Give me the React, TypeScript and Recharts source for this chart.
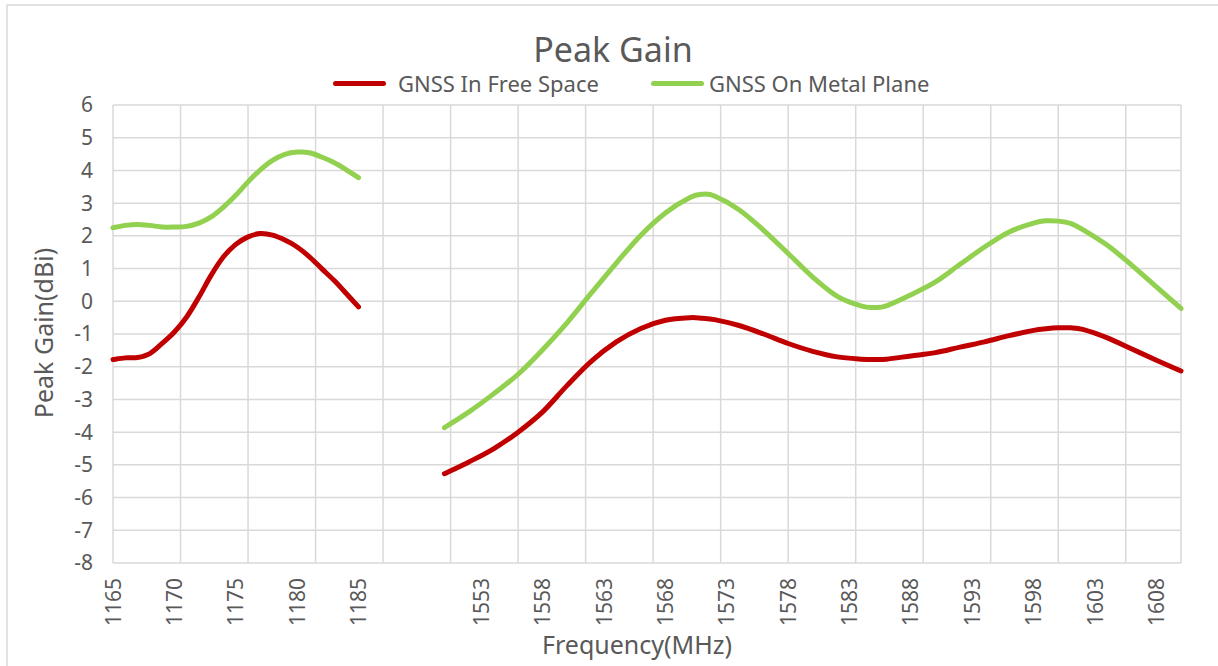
import { CartesianGrid, Legend, Line, LineChart, XAxis, YAxis } from "recharts";

// L5 band, read every 1 MHz
const lowFreqs = [
  1165, 1166, 1167, 1168, 1169, 1170, 1171, 1172, 1173, 1174, 1175, 1176, 1177,
  1178, 1179, 1180, 1181, 1182, 1183, 1184, 1185,
];
const lowFreeSpace = [
  -1.78, -1.73, -1.72, -1.6, -1.29, -0.94, -0.48, 0.13, 0.8, 1.36, 1.74, 1.97,
  2.07, 2.02, 1.87, 1.66, 1.36, 1.0, 0.64, 0.24, -0.17,
];
const lowMetalPlane = [
  2.25, 2.32, 2.35, 2.32, 2.27, 2.27, 2.29, 2.39, 2.58, 2.88, 3.24, 3.65, 4.02,
  4.31, 4.49, 4.56, 4.54, 4.41, 4.24, 4.02, 3.78,
];

// L1 band, read every 2 MHz plus the turning points
const highFreqs = [
  1550, 1552, 1554, 1556, 1558, 1560, 1562, 1564, 1566, 1568, 1570, 1571, 1572,
  1574, 1576, 1578, 1580, 1582, 1584, 1585, 1586, 1588, 1590, 1592, 1594, 1596,
  1598, 1599, 1600, 1601, 1602, 1604, 1606, 1608, 1610,
];
const highFreeSpace = [
  -5.27, -4.91, -4.51, -4.0, -3.38, -2.57, -1.82, -1.24, -0.83, -0.58, -0.5,
  -0.52, -0.56, -0.74, -1.0, -1.29, -1.53, -1.7, -1.77, -1.78, -1.77, -1.67,
  -1.57, -1.4, -1.24, -1.05, -0.89, -0.84, -0.81, -0.81, -0.86, -1.12, -1.46,
  -1.8, -2.13,
];
const highMetalPlane = [
  -3.86, -3.38, -2.83, -2.23, -1.48, -0.65, 0.27, 1.17, 2.02, 2.7, 3.17, 3.27,
  3.22, 2.8, 2.17, 1.46, 0.74, 0.15, -0.15, -0.19, -0.14, 0.2, 0.59, 1.13, 1.66,
  2.12, 2.39, 2.46, 2.45, 2.38, 2.19, 1.71, 1.1, 0.44, -0.22,
];

const yTicks = [-8, -7, -6, -5, -4, -3, -2, -1, 0, 1, 2, 3, 4, 5, 6];

const FREE = "GNSS In Free Space";
const METAL = "GNSS On Metal Plane";
const RED = "#C00000";
const GREEN = "#92D050";
const TEXT = "#595959";
const GRID = "#D9D9D9";
const FONT = "'Noto Sans', sans-serif";

// Excel category axis: one slot per 0.5 MHz, 13 empty rows between the bands
function halfSteps(from: number, to: number) {
  const out: string[] = [];
  for (let i = 0; i <= (to - from) * 2; i++) out.push(String(from + i / 2));
  return out;
}
const categories = [
  ...halfSteps(1165, 1185),
  ...Array.from({ length: 13 }, (_, i) => `gap${i}`),
  ...halfSteps(1550, 1610),
];

function valueAt(freqs: number[], values: number[], cat: string) {
  const i = freqs.indexOf(Number(cat));
  return i >= 0 ? values[i] : null;
}

const data = categories.map((cat) => ({
  cat,
  freeLow: valueAt(lowFreqs, lowFreeSpace, cat),
  metalLow: valueAt(lowFreqs, lowMetalPlane, cat),
  freeHigh: valueAt(highFreqs, highFreeSpace, cat),
  metalHigh: valueAt(highFreqs, highMetalPlane, cat),
}));

// the workbook puts a vertical gridline every 11 slots
const gridCats = categories.filter((_, i) => i % 11 === 0);

// Excel-style "smoothed line": Catmull-Rom through the points as cubic beziers
function excelSmooth(context: any) {
  let pts: [number, number][] = [];
  return {
    areaStart() {},
    areaEnd() {},
    lineStart() {
      pts = [];
    },
    lineEnd() {
      if (!pts.length) return;
      context.moveTo(pts[0][0], pts[0][1]);
      for (let i = 0; i < pts.length - 1; i++) {
        const p0 = pts[i - 1] ?? pts[i];
        const p1 = pts[i];
        const p2 = pts[i + 1];
        const p3 = pts[i + 2] ?? p2;
        context.bezierCurveTo(
          p1[0] + (p2[0] - p0[0]) / 6,
          p1[1] + (p2[1] - p0[1]) / 6,
          p2[0] - (p3[0] - p1[0]) / 6,
          p2[1] - (p3[1] - p1[1]) / 6,
          p2[0],
          p2[1]
        );
      }
    },
    point(x: number, y: number) {
      pts.push([x, y]);
    },
  };
}

function FreqTick({ x, y, payload }: any) {
  const v = String(payload.value);
  if (v.startsWith("gap")) return null;
  const ty = y + 7;
  return (
    <text
      x={x}
      y={ty}
      transform={`rotate(-90 ${x} ${ty})`}
      textAnchor="end"
      dy="0.36em"
      fill={TEXT}
      fontSize={21}
      fontFamily={FONT}
    >
      {v}
    </text>
  );
}

function LegendContent({ payload }: any) {
  const seen = new Set<string>();
  const items = (payload ?? []).filter((p: any) => {
    if (seen.has(p.value)) return false;
    seen.add(p.value);
    return true;
  });
  return (
    <div
      style={{
        display: "flex",
        alignItems: "center",
        gap: 52,
        fontFamily: FONT,
        fontSize: 22,
        color: TEXT,
      }}
    >
      {items.map((p: any, i: number) => (
        <div key={p.value} style={{ display: "flex", alignItems: "center", gap: i === 0 ? 12 : 5 }}>
          <span
            style={{
              display: "inline-block",
              width: 53,
              height: 5,
              borderRadius: 3,
              background: p.color,
            }}
          />
          <span>{p.value}</span>
        </div>
      ))}
    </div>
  );
}

const lineProps = {
  type: excelSmooth as any,
  strokeWidth: 5,
  strokeLinecap: "round" as const,
  dot: false,
  activeDot: false,
  connectNulls: true,
  isAnimationActive: false,
};

export default function App() {
  return (
    <div
      style={{
        position: "absolute",
        left: 0,
        top: 0,
        width: 1218,
        height: 666,
        background: "#fff",
        overflow: "hidden",
      }}
    >
      <LineChart
        width={1218}
        height={666}
        data={data}
        margin={{ top: 105, right: 37, bottom: 0, left: 53 }}
      >
        <CartesianGrid stroke={GRID} strokeWidth={1.5} xAxisId="grid" />
        <XAxis
          dataKey="cat"
          type="category"
          scale="point"
          interval={9}
          tick={FreqTick}
          tickLine={false}
          axisLine={false}
          height={103}
        />
        <XAxis
          xAxisId="grid"
          dataKey="cat"
          type="category"
          scale="point"
          ticks={gridCats}
          interval={0}
          hide
        />
        <YAxis
          type="number"
          domain={[-8, 6]}
          ticks={yTicks}
          interval={0}
          width={60}
          tickLine={false}
          axisLine={false}
          tickMargin={14}
          tick={{ fontSize: 21, fill: TEXT, fontFamily: FONT }}
        />
        <Legend
          verticalAlign="middle"
          align="center"
          layout="horizontal"
          content={LegendContent}
          wrapperStyle={{ top: 70, left: 333, width: 800, lineHeight: "26px" }}
        />
        <Line dataKey="freeLow" name={FREE} stroke={RED} {...lineProps} />
        <Line dataKey="metalLow" name={METAL} stroke={GREEN} {...lineProps} />
        <Line dataKey="freeHigh" name={FREE} stroke={RED} legendType="none" {...lineProps} />
        <Line dataKey="metalHigh" name={METAL} stroke={GREEN} legendType="none" {...lineProps} />
      </LineChart>
      <svg
        width={1218}
        height={666}
        style={{ position: "absolute", left: 0, top: 0, pointerEvents: "none" }}
      >
        <rect x={7} y={5} width={1240} height={700} fill="none" stroke={GRID} strokeWidth={1.5} />
        <text x={613} y={62} textAnchor="middle" fontSize={34} fill={TEXT} fontFamily={FONT}>
          Peak Gain
        </text>
        <text x={637} y={654} textAnchor="middle" fontSize={25} fill={TEXT} fontFamily={FONT}>
          Frequency(MHz)
        </text>
        <text
          x={53}
          y={333}
          transform="rotate(-90 53 333)"
          textAnchor="middle"
          fontSize={25}
          fill={TEXT}
          fontFamily={FONT}
        >
          Peak Gain(dBi)
        </text>
      </svg>
    </div>
  );
}
